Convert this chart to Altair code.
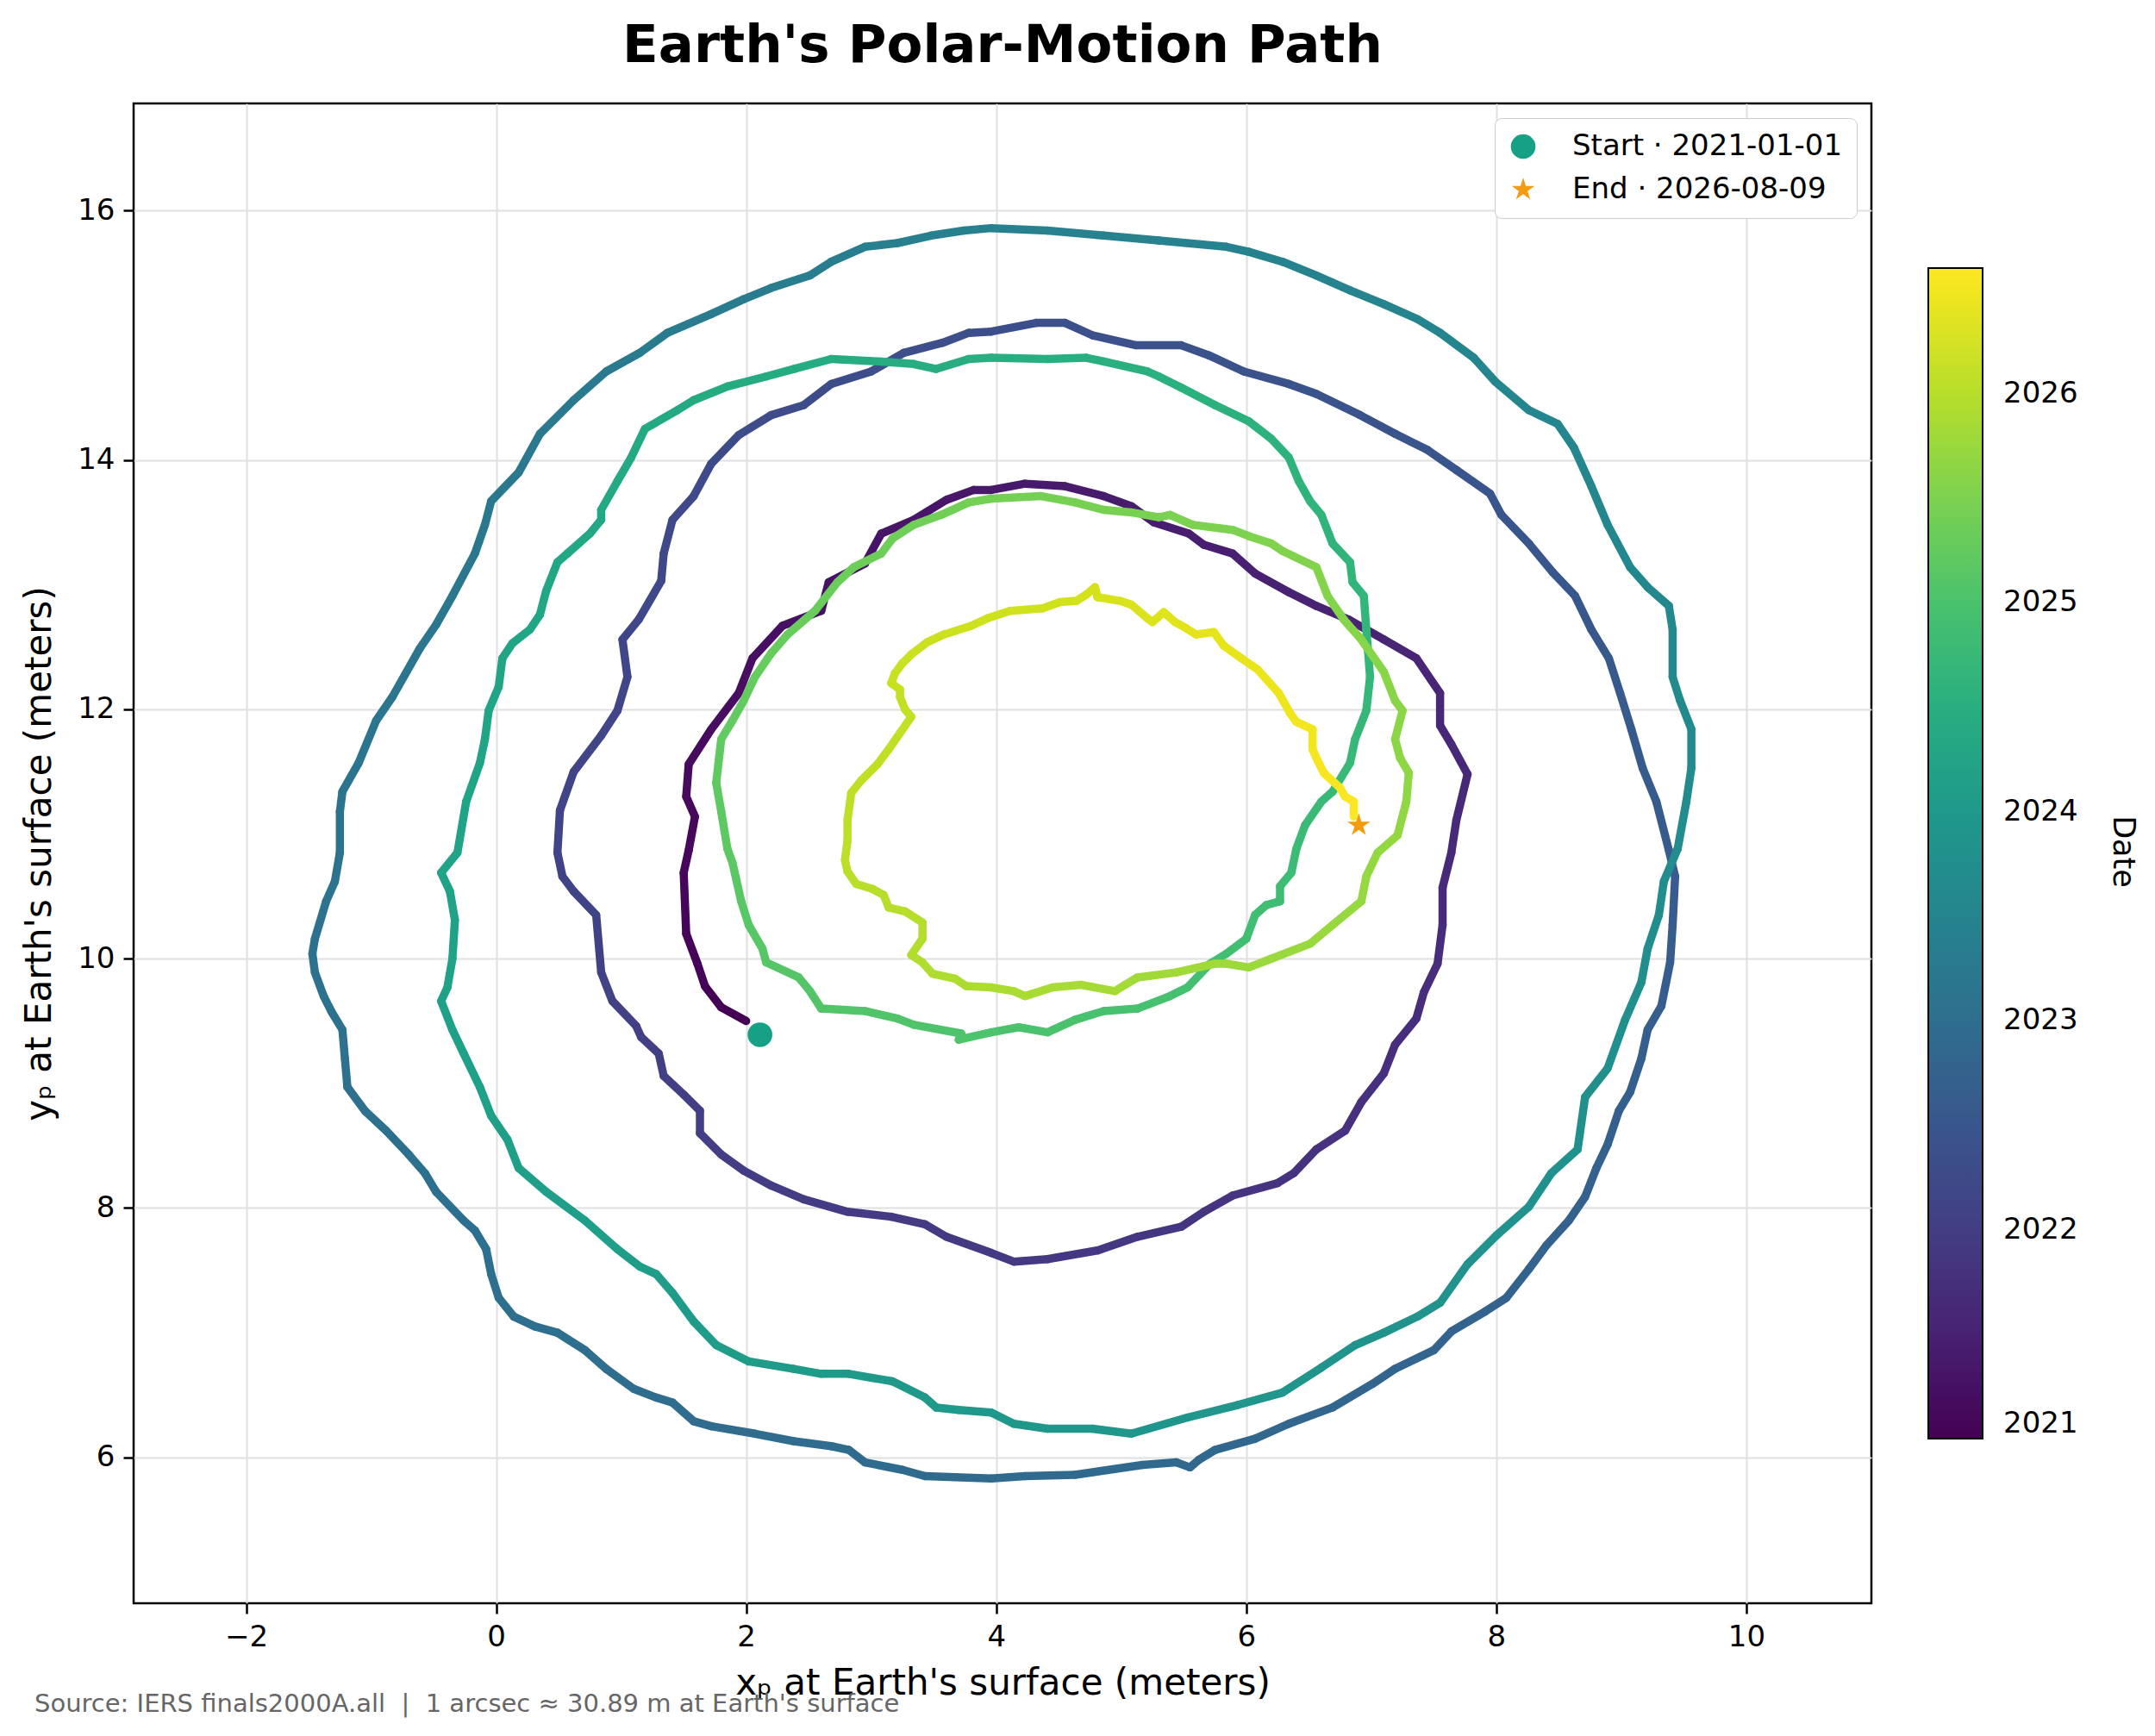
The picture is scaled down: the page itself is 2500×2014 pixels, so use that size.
import altair as alt
import pandas as pd

# ---- path of the pole (meters at Earth's surface) ----
xs = [2.00, 1.80, 1.67, 1.61, 1.52, 1.50, 1.54,
      1.59, 1.52, 1.54, 1.72, 1.94, 2.05, 2.29, 2.60, 2.66, 2.95, 3.08, 3.34, 3.60, 3.82, 3.96, 4.23,
      4.55, 4.86, 5.08, 5.26, 5.54, 5.66, 5.89, 6.07, 6.34, 6.56, 6.82, 7.10, 7.36, 7.55, 7.55, 7.64, 7.77, 7.68,
      7.64, 7.57, 7.57, 7.53, 7.42, 7.36, 7.19, 7.10, 6.92, 6.79, 6.56, 6.38, 6.25, 5.89, 5.66, 5.48, 5.13, 4.81, 4.41, 4.14,
      3.96, 3.60, 3.43, 3.16, 2.81, 2.46, 2.20, 1.98, 1.80, 1.63, 1.63, 1.50, 1.34, 1.30, 1.16, 1.12, 0.93, 0.84, 0.80, 0.62, 0.53, 0.49,
      0.51, 0.62, 0.84, 0.97, 1.05, 1.01, 1.14, 1.32, 1.34, 1.41, 1.58, 1.72, 1.94, 2.20, 2.46, 2.68, 3.00, 3.26, 3.57, 3.78, 3.96, 4.32,
      4.55, 4.77, 5.12, 5.48, 5.70, 5.98, 6.34, 6.56, 6.91, 7.19, 7.45, 7.68, 7.95, 8.04, 8.26, 8.45, 8.63, 8.76, 8.90, 8.99, 9.08, 9.17, 9.28, 9.38,
      9.43, 9.41, 9.39, 9.32, 9.21, 9.16, 9.07, 8.98, 8.89, 8.80, 8.71, 8.58, 8.40, 8.26, 8.08, 7.91, 7.64, 7.50, 7.19, 7.01, 6.69, 6.34, 6.07, 5.75, 5.62, 5.55, 5.44, 5.17, 4.63, 4.23,
      3.96, 3.43, 3.25, 2.95, 2.82, 2.68, 2.38, 2.07, 1.72, 1.58, 1.41, 1.28, 1.10, 0.88, 0.71, 0.49, 0.31, 0.14, 0.02, -0.04, -0.08, -0.17, -0.26, -0.48, -0.57, -0.70, -0.88, -1.05, -1.19, -1.21, -1.23, -1.32, -1.38, -1.45, -1.47, -1.45, -1.36, -1.29, -1.25,
      -1.25, -1.23, -1.10, -0.96, -0.83, -0.61, -0.48, -0.35, -0.17, -0.09, -0.04, 0.18, 0.35, 0.62, 0.88, 1.15, 1.37, 1.72, 1.98, 2.20, 2.51, 2.68, 2.95, 3.21, 3.48, 3.74, 3.96,
      4.41, 4.86, 5.30, 5.84, 6.02, 6.29, 6.56, 6.83, 7.10, 7.37, 7.55, 7.82, 7.99, 8.26, 8.49, 8.62, 8.76, 8.89, 9.07, 9.21, 9.38, 9.41, 9.41, 9.47, 9.56, 9.56, 9.52, 9.45,
      9.34, 9.30, 9.21, 9.16, 9.03, 8.89, 8.71, 8.65, 8.44, 8.26, 8.00, 7.77, 7.55, 7.37, 7.10, 6.87, 6.60, 6.29, 5.93, 5.53, 5.08, 4.77, 4.41,
      4.14, 3.96, 3.70, 3.52, 3.43, 3.17, 2.82, 2.60, 2.38, 2.02, 1.76, 1.58, 1.41, 1.28, 1.15, 0.97, 0.71, 0.40, 0.18, 0.09, -0.04, -0.13, -0.26, -0.35, -0.44, -0.39, -0.35, -0.33, -0.37, -0.44, -0.31,
      -0.24, -0.13, -0.09, -0.06, 0.02, 0.05, 0.13, 0.27, 0.35, 0.40, 0.49, 0.57, 0.75, 0.84, 0.84, 0.97, 1.08, 1.19, 1.45, 1.58, 1.85, 2.16, 2.38, 2.68, 3.08, 3.34, 3.52, 3.78, 3.96,
      4.41, 4.72, 4.86, 5.21, 5.30, 5.48, 5.75, 6.02, 6.20, 6.34, 6.42, 6.51, 6.60, 6.69, 6.83, 6.85, 6.94, 6.96, 6.99,
      6.96, 6.87, 6.83, 6.69, 6.60, 6.47, 6.40, 6.36, 6.27, 6.27, 6.16, 6.07, 6.00, 5.84, 5.71, 5.53, 5.39, 5.13, 4.86, 4.63, 4.41, 4.18,
      3.96, 3.70, 3.72, 3.34, 3.21, 2.95, 2.60, 2.51, 2.42, 2.16, 2.13, 2.02, 1.96, 1.89, 1.85,
      1.80, 1.76, 1.80, 1.89, 1.98, 2.07, 2.20, 2.33, 2.55, 2.73, 2.86, 3.08, 3.17, 3.34, 3.56, 3.78, 3.96,
      4.36, 4.63, 4.86, 5.08, 5.30, 5.39, 5.57, 5.89, 6.02, 6.20, 6.29, 6.56, 6.65, 6.78, 6.92, 7.10, 7.19, 7.25,
      7.19, 7.23, 7.30, 7.28, 7.21, 7.05, 6.96, 6.92, 6.69, 6.51, 6.20, 6.02, 5.84, 5.75, 5.44, 5.13, 5.03, 4.95, 4.68, 4.45,
      4.23, 4.14, 3.96, 3.76, 3.67, 3.49, 3.41, 3.32, 3.41, 3.41, 3.27, 3.14, 3.10, 3.01, 2.88, 2.81, 2.79, 2.81, 2.81,
      2.84, 2.92, 3.05, 3.14, 3.23, 3.32, 3.27, 3.23, 3.23, 3.16, 3.19, 3.25, 3.32, 3.45, 3.58, 3.80, 3.93, 4.11, 4.37, 4.51, 4.64, 4.72, 4.79,
      4.81, 4.99, 5.08, 5.21, 5.25, 5.34, 5.43, 5.52, 5.60, 5.74, 5.82, 5.96, 6.09, 6.18, 6.26, 6.35, 6.40, 6.53, 6.53, 6.57, 6.62, 6.75, 6.79, 6.86, 6.86]

ys = [9.50, 9.61, 9.78, 9.96, 10.20, 10.69, 10.87,
      11.14, 11.30, 11.56, 11.84, 12.13, 12.41, 12.67, 12.79, 13.02, 13.17, 13.41, 13.52, 13.68, 13.76, 13.76, 13.81,
      13.79, 13.71, 13.63, 13.50, 13.41, 13.32, 13.25, 13.09, 12.94, 12.83, 12.72, 12.56, 12.41, 12.13, 11.87, 11.72, 11.48, 11.11,
      10.85, 10.57, 10.27, 9.96, 9.73, 9.52, 9.31, 9.08, 8.85, 8.62, 8.47, 8.28, 8.20, 8.10, 7.97, 7.85, 7.77, 7.66, 7.59, 7.57,
      7.64, 7.77, 7.87, 7.93, 7.97, 8.07, 8.18, 8.30, 8.43, 8.60, 8.78, 8.91, 9.06, 9.24, 9.37, 9.46, 9.66, 9.89, 10.35, 10.54, 10.66, 10.85,
      11.19, 11.50, 11.79, 11.99, 12.26, 12.56, 12.72, 13.03, 13.25, 13.52, 13.71, 13.97, 14.20, 14.36, 14.44, 14.61, 14.71, 14.86, 14.94, 15.02, 15.03, 15.10,
      15.10, 15.00, 14.92, 14.92, 14.84, 14.71, 14.61, 14.53, 14.36, 14.21, 14.08, 13.92, 13.73, 13.56, 13.33, 13.10, 12.91, 12.64, 12.41, 12.13, 11.84, 11.53, 11.26, 10.87,
      10.66, 10.27, 9.97, 9.62, 9.43, 9.20, 8.93, 8.78, 8.51, 8.32, 8.09, 7.90, 7.70, 7.51, 7.28, 7.17, 7.01, 6.86, 6.71, 6.59, 6.40, 6.27, 6.15, 6.06, 5.98, 5.92, 5.96, 5.94, 5.86, 5.85,
      5.83, 5.85, 5.90, 5.96, 6.06, 6.09, 6.13, 6.19, 6.25, 6.29, 6.44, 6.48, 6.55, 6.71, 6.86, 7.00, 7.05, 7.13, 7.28, 7.47, 7.67, 7.82, 7.90, 8.13, 8.28, 8.43, 8.62, 8.78, 8.97, 9.20, 9.43, 9.58, 9.70, 9.89, 10.04, 10.16, 10.46, 10.62, 10.85,
      11.18, 11.34, 11.57, 11.91, 12.10, 12.49, 12.68, 12.91, 13.25, 13.48, 13.67, 13.90, 14.21, 14.48, 14.71, 14.86, 15.02, 15.17, 15.29, 15.38, 15.48, 15.59, 15.71, 15.74, 15.80, 15.84, 15.86,
      15.84, 15.80, 15.76, 15.71, 15.67, 15.59, 15.48, 15.36, 15.25, 15.13, 15.02, 14.82, 14.63, 14.40, 14.29, 14.10, 13.79, 13.48, 13.14, 12.98, 12.83, 12.64, 12.26, 12.07, 11.84, 11.53, 11.26, 10.88,
      10.62, 10.35, 10.08, 9.81, 9.51, 9.12, 8.89, 8.47, 8.28, 8.01, 7.78, 7.55, 7.24, 7.13, 7.00, 6.90, 6.72, 6.52, 6.42, 6.32, 6.19, 6.23, 6.23,
      6.27, 6.36, 6.38, 6.40, 6.48, 6.61, 6.67, 6.67, 6.71, 6.77, 6.90, 7.09, 7.32, 7.47, 7.53, 7.67, 7.90, 8.13, 8.32, 8.55, 8.74, 8.97, 9.24, 9.43, 9.66, 9.77, 10.00, 10.31, 10.54, 10.69, 10.85,
      11.26, 11.57, 11.76, 11.99, 12.18, 12.41, 12.53, 12.64, 12.76, 12.95, 13.18, 13.25, 13.41, 13.52, 13.60, 13.83, 14.02, 14.25, 14.40, 14.48, 14.59, 14.67, 14.73, 14.81, 14.79, 14.77, 14.73, 14.81, 14.82,
      14.81, 14.82, 14.79, 14.71, 14.67, 14.58, 14.44, 14.31, 14.17, 14.02, 13.83, 13.67, 13.56, 13.33, 13.18, 13.02, 12.91, 12.64, 12.26,
      11.99, 11.76, 11.57, 11.34, 11.26, 11.07, 10.88, 10.69, 10.58, 10.46, 10.43, 10.35, 10.16, 10.04, 9.96, 9.77, 9.70, 9.60, 9.58, 9.51, 9.41, 9.45,
      9.41, 9.35, 9.40, 9.47, 9.52, 9.58, 9.60, 9.74, 9.85, 9.97, 10.08, 10.27, 10.46, 10.77, 10.88,
      11.18, 11.41, 11.76, 11.91, 12.07, 12.26, 12.45, 12.60, 12.79, 13.02, 13.14, 13.25, 13.37, 13.48, 13.56, 13.66, 13.69,
      13.71, 13.66, 13.60, 13.58, 13.54, 13.56, 13.48, 13.44, 13.39, 13.33, 13.27, 13.14, 12.91, 12.72, 12.56, 12.30, 12.07, 11.99,
      11.76, 11.61, 11.49, 11.26, 10.99, 10.85, 10.66, 10.46, 10.27, 10.12, 10.00, 9.93, 9.96, 9.96, 9.89, 9.85, 9.79, 9.74, 9.79, 9.77,
      9.70, 9.74, 9.77, 9.78, 9.84, 9.88, 9.97, 10.03, 10.16, 10.29, 10.38, 10.41, 10.51, 10.56, 10.60, 10.70, 10.79, 10.95, 11.11,
      11.33, 11.43, 11.56, 11.68, 11.81, 11.94, 12.00, 12.10, 12.16, 12.21, 12.29, 12.37, 12.44, 12.54, 12.60, 12.67, 12.73, 12.79, 12.81, 12.86, 12.87, 12.92, 12.98,
      12.90, 12.87, 12.84, 12.73, 12.70, 12.78, 12.70, 12.65, 12.60, 12.62, 12.51, 12.41, 12.32, 12.22, 12.13, 11.97, 11.90, 11.84, 11.68, 11.59, 11.49, 11.37, 11.30, 11.26, 11.14]

# estimated date (decimal year) of each path point, read from the colours
ts = [2021.00, 2021.02, 2021.04, 2021.05, 2021.07, 2021.09, 2021.10,
      2021.12, 2021.14, 2021.15, 2021.17, 2021.19, 2021.20, 2021.22, 2021.24, 2021.25, 2021.27, 2021.29, 2021.30, 2021.32, 2021.34, 2021.35, 2021.37,
      2021.39, 2021.40, 2021.42, 2021.43, 2021.45, 2021.46, 2021.48, 2021.49, 2021.51, 2021.53, 2021.54, 2021.56, 2021.57, 2021.59, 2021.60, 2021.62, 2021.63, 2021.65,
      2021.66, 2021.68, 2021.69, 2021.70, 2021.72, 2021.73, 2021.75, 2021.76, 2021.77, 2021.79, 2021.80, 2021.81, 2021.83, 2021.84, 2021.85, 2021.87, 2021.88, 2021.89, 2021.91, 2021.92,
      2021.93, 2021.94, 2021.95, 2021.96, 2021.97, 2021.98, 2021.99, 2022.00, 2022.01, 2022.02, 2022.03, 2022.03, 2022.04, 2022.05, 2022.06, 2022.07, 2022.08, 2022.09, 2022.10, 2022.11, 2022.11, 2022.12,
      2022.13, 2022.14, 2022.15, 2022.16, 2022.17, 2022.18, 2022.19, 2022.20, 2022.21, 2022.22, 2022.24, 2022.25, 2022.26, 2022.27, 2022.28, 2022.29, 2022.30, 2022.31, 2022.32, 2022.33, 2022.34, 2022.35,
      2022.36, 2022.37, 2022.38, 2022.39, 2022.40, 2022.41, 2022.42, 2022.43, 2022.44, 2022.45, 2022.46, 2022.47, 2022.49, 2022.50, 2022.51, 2022.52, 2022.53, 2022.54, 2022.55, 2022.56, 2022.57, 2022.58, 2022.59, 2022.60,
      2022.61, 2022.62, 2022.63, 2022.64, 2022.65, 2022.66, 2022.67, 2022.69, 2022.70, 2022.71, 2022.72, 2022.73, 2022.74, 2022.75, 2022.76, 2022.77, 2022.78, 2022.79, 2022.80, 2022.81, 2022.82, 2022.84, 2022.85, 2022.86, 2022.87, 2022.88, 2022.89, 2022.90, 2022.91, 2022.92,
      2022.93, 2022.93, 2022.94, 2022.94, 2022.95, 2022.95, 2022.96, 2022.96, 2022.97, 2022.97, 2022.98, 2022.99, 2022.99, 2023.00, 2023.00, 2023.01, 2023.01, 2023.02, 2023.02, 2023.03, 2023.03, 2023.04, 2023.04, 2023.05, 2023.06, 2023.06, 2023.07, 2023.07, 2023.08, 2023.08, 2023.09, 2023.09, 2023.10, 2023.10, 2023.11, 2023.11, 2023.12, 2023.12, 2023.13,
      2023.14, 2023.15, 2023.16, 2023.17, 2023.18, 2023.19, 2023.21, 2023.22, 2023.23, 2023.24, 2023.25, 2023.26, 2023.27, 2023.28, 2023.29, 2023.30, 2023.31, 2023.32, 2023.33, 2023.34, 2023.35, 2023.37, 2023.38, 2023.39, 2023.40, 2023.41, 2023.42,
      2023.43, 2023.44, 2023.45, 2023.46, 2023.47, 2023.48, 2023.49, 2023.50, 2023.51, 2023.52, 2023.53, 2023.54, 2023.55, 2023.56, 2023.57, 2023.58, 2023.59, 2023.60, 2023.61, 2023.62, 2023.63, 2023.64, 2023.65, 2023.66, 2023.67, 2023.68, 2023.69, 2023.70,
      2023.71, 2023.72, 2023.74, 2023.75, 2023.76, 2023.77, 2023.78, 2023.80, 2023.81, 2023.82, 2023.83, 2023.84, 2023.86, 2023.87, 2023.88, 2023.89, 2023.90, 2023.92, 2023.93, 2023.94, 2023.95, 2023.96, 2023.98,
      2023.99, 2024.00, 2024.01, 2024.02, 2024.03, 2024.03, 2024.04, 2024.05, 2024.06, 2024.07, 2024.08, 2024.09, 2024.10, 2024.11, 2024.11, 2024.12, 2024.13, 2024.14, 2024.15, 2024.16, 2024.17, 2024.18, 2024.19, 2024.20, 2024.20, 2024.21, 2024.22, 2024.23, 2024.24, 2024.24, 2024.25,
      2024.26, 2024.27, 2024.28, 2024.28, 2024.29, 2024.30, 2024.31, 2024.32, 2024.33, 2024.34, 2024.35, 2024.35, 2024.36, 2024.37, 2024.38, 2024.39, 2024.40, 2024.41, 2024.41, 2024.42, 2024.43, 2024.44, 2024.45, 2024.46, 2024.47, 2024.47, 2024.48, 2024.49, 2024.50,
      2024.51, 2024.52, 2024.54, 2024.55, 2024.56, 2024.57, 2024.58, 2024.59, 2024.61, 2024.62, 2024.63, 2024.64, 2024.65, 2024.66, 2024.68, 2024.69, 2024.70, 2024.71, 2024.73,
      2024.74, 2024.76, 2024.77, 2024.78, 2024.80, 2024.81, 2024.82, 2024.84, 2024.85, 2024.86, 2024.88, 2024.89, 2024.90, 2024.92, 2024.93, 2024.94, 2024.96, 2024.97, 2024.98, 2025.00, 2025.01, 2025.02,
      2025.03, 2025.04, 2025.05, 2025.06, 2025.07, 2025.08, 2025.10, 2025.11, 2025.12, 2025.13, 2025.14, 2025.16, 2025.17, 2025.18, 2025.20,
      2025.21, 2025.23, 2025.24, 2025.25, 2025.27, 2025.28, 2025.30, 2025.31, 2025.32, 2025.34, 2025.35, 2025.36, 2025.38, 2025.39, 2025.40, 2025.41, 2025.42,
      2025.43, 2025.44, 2025.46, 2025.47, 2025.48, 2025.49, 2025.50, 2025.51, 2025.53, 2025.54, 2025.55, 2025.56, 2025.57, 2025.58, 2025.60, 2025.61, 2025.62, 2025.63,
      2025.64, 2025.66, 2025.67, 2025.68, 2025.70, 2025.71, 2025.72, 2025.73, 2025.75, 2025.76, 2025.77, 2025.78, 2025.80, 2025.81, 2025.82, 2025.83, 2025.85, 2025.86, 2025.87, 2025.88,
      2025.89, 2025.90, 2025.91, 2025.92, 2025.93, 2025.94, 2025.95, 2025.96, 2025.97, 2025.98, 2025.99, 2026.00, 2026.00, 2026.01, 2026.02, 2026.03, 2026.04, 2026.04, 2026.05,
      2026.06, 2026.07, 2026.08, 2026.08, 2026.09, 2026.10, 2026.11, 2026.12, 2026.13, 2026.13, 2026.14, 2026.15, 2026.16, 2026.17, 2026.18, 2026.19, 2026.19, 2026.20, 2026.21, 2026.22, 2026.23, 2026.24, 2026.25,
      2026.26, 2026.28, 2026.29, 2026.31, 2026.32, 2026.34, 2026.35, 2026.36, 2026.38, 2026.39, 2026.40, 2026.42, 2026.43, 2026.45, 2026.46, 2026.47, 2026.49, 2026.50, 2026.52, 2026.53, 2026.54, 2026.56, 2026.57, 2026.59, 2026.60]

marker_labels = ["Start · 2021-01-01", "End · 2026-08-09"]
marker_x = [2.11, 6.90]
marker_y = [9.39, 11.07]

x_ticks = [-2, 0, 2, 4, 6, 8, 10]
y_ticks = [6, 8, 10, 12, 14, 16]
cbar_ticks = [2021, 2022, 2023, 2024, 2025, 2026]

title_text = "Earth's Polar-Motion Path"
x_title = "xₚ at Earth's surface (meters)"
y_title = "yₚ at Earth's surface (meters)"
footer_text = "Source: IERS finals2000A.all \u00a0|\u00a0 1 arcsec ≈ 30.89 m at Earth's surface"
cbar_title = "Date"

assert len(xs) == len(ys) == len(ts)

W, H = 2016, 1740
FONT = "DejaVu Sans"
# five-pointed star as an SVG path in the unit square (-1..1)
STAR = ("M0,-1L0.2245,-0.309L0.951,-0.309L0.363,0.118L0.588,0.809L0,0.382"
        "L-0.588,0.809L-0.363,0.118L-0.951,-0.309L-0.2245,-0.309Z")

seg = pd.DataFrame({
    "x": xs[:-1], "y": ys[:-1],
    "x2": xs[1:], "y2": ys[1:],
    "t": ts[:-1],
})
marks_df = pd.DataFrame({"x": marker_x, "y": marker_y, "label": marker_labels})

xscale = alt.Scale(domain=[-2.9, 11.0], nice=False, zero=False)
yscale = alt.Scale(domain=[4.83, 16.86], nice=False, zero=False)
xaxis = alt.Axis(values=x_ticks, title=x_title, titlePadding=16, format="d")
yaxis = alt.Axis(values=y_ticks, title=y_title, titlePadding=22, format="d")

path = alt.Chart(seg).mark_rule(strokeWidth=9.5, strokeCap="round").encode(
    x=alt.X("x:Q", scale=xscale, axis=xaxis),
    y=alt.Y("y:Q", scale=yscale, axis=yaxis),
    x2="x2:Q",
    y2="y2:Q",
    color=alt.Color(
        "t:Q",
        scale=alt.Scale(scheme="viridis", domain=[2021.0, 2026.6]),
        legend=alt.Legend(
            orient="none", legendX=2082, legendY=191, direction="vertical",
            gradientLength=1358, gradientThickness=63, values=cbar_ticks, format="d",
            labelFontSize=34, labelFont=FONT, labelColor="black", labelOffset=24,
            title=None, gradientStrokeColor="black", gradientStrokeWidth=2,
        ),
    ),
)

sym_legend = alt.Legend(
    orient="top-right", offset=17, title=None, labelFontSize=34, labelFont=FONT,
    labelColor="black", labelLimit=800, fillColor="white", strokeColor="#cccccc",
    cornerRadius=8, padding=16, rowPadding=16, labelOffset=40, symbolStrokeWidth=0,
)

points = alt.Chart(marks_df).mark_point(filled=True, opacity=1).encode(
    x=alt.X("x:Q", scale=xscale, axis=xaxis),
    y=alt.Y("y:Q", scale=yscale, axis=yaxis),
    color=alt.Color("label:N", scale=alt.Scale(domain=marker_labels, range=["#16a085", "#f39c12"]),
                    legend=sym_legend),
    shape=alt.Shape("label:N", scale=alt.Scale(domain=marker_labels, range=["circle", STAR]),
                    legend=sym_legend),
    size=alt.Size("label:N", scale=alt.Scale(domain=marker_labels, range=[820, 780], padding=0),
                  legend=sym_legend),
)

title = alt.Chart(pd.DataFrame({"text": [title_text]})).mark_text(
    font=FONT, fontSize=61, fontWeight="bold", align="center", baseline="alphabetic", color="black"
).encode(x=alt.value(W / 2), y=alt.value(-48), text="text:N")

footer = alt.Chart(pd.DataFrame({"text": [footer_text]})).mark_text(
    font=FONT, fontSize=29, align="left", baseline="alphabetic", color="#666666"
).encode(x=alt.value(-115), y=alt.value(1866), text="text:N")

cbar_label = alt.Chart(pd.DataFrame({"text": [cbar_title]})).mark_text(
    font=FONT, fontSize=35, align="center", baseline="middle", angle=90, color="black"
).encode(x=alt.value(2308), y=alt.value(868), text="text:N")

chart = alt.layer(path, points, title, footer, cbar_label).resolve_scale(
    color="independent", shape="independent", size="independent"
).properties(
    width=W, height=H,
    padding={"left": 147, "top": 112, "right": 321, "bottom": 146},
    autosize=alt.AutoSizeParams(type="none"),
).configure_view(
    stroke="black", strokeWidth=2.5
).configure_axis(
    grid=True, gridColor="#e0e0e0", gridWidth=2, domain=False,
    tickColor="black", tickWidth=2.5, tickSize=12,
    labelFont=FONT, labelFontSize=34, labelColor="black", labelPadding=10,
    titleFont=FONT, titleFontSize=42, titleFontWeight="normal", titleColor="black",
)

chart.save("out.html", embed_options={"renderer": "svg", "actions": False})
